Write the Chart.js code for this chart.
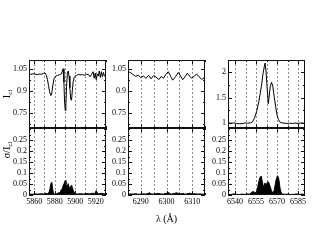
<!DOCTYPE html>
<html>
<head>
<meta charset="utf-8">
<script src="https://cdn.jsdelivr.net/npm/chart.js@4.4.0/dist/chart.umd.min.js"></script>
<style>
body { margin: 0; background: #fff; width: 317px; height: 245px; overflow: hidden; position: relative; }
canvas { position: absolute; left: 0; top: 0; }
</style>
</head>
<body>
<canvas id="t1" width="317" height="245"></canvas>
<canvas id="t2" width="317" height="245"></canvas>
<canvas id="t3" width="317" height="245"></canvas>
<canvas id="b1" width="317" height="245"></canvas>
<canvas id="b2" width="317" height="245"></canvas>
<canvas id="b3" width="317" height="245"></canvas>
<script>
// Na D region
const wl1 = [5855, 5857, 5859, 5861, 5863, 5865, 5867, 5869, 5870.5, 5872, 5873, 5874, 5875, 5876, 5876.8, 5877.5, 5878.5, 5879.5, 5881, 5883, 5885, 5886.5, 5887.5, 5888.3, 5889, 5889.6, 5890.3, 5890.9, 5891.6, 5892.4, 5893.2, 5894, 5894.8, 5895.6, 5896.4, 5897.2, 5898, 5899, 5900, 5901.5, 5903, 5905, 5907, 5909, 5911, 5913, 5914.5, 5916, 5917.5, 5918.5, 5919.5, 5920.5, 5921.5, 5922.5, 5923.5, 5924.5, 5925.5, 5926.5, 5927.5, 5928.5, 5930];
const flux1 = [1.015, 1.012, 1.016, 1.013, 1.01, 1.014, 1.012, 1.018, 1.022, 1.005, 0.975, 0.935, 0.895, 0.868, 0.87, 0.9, 0.95, 0.985, 1.0, 1.005, 1.01, 1.015, 1.035, 1.05, 0.96, 0.83, 0.765, 0.8, 0.93, 1.02, 1.035, 1.0, 0.92, 0.84, 0.835, 0.9, 0.96, 0.99, 1.0, 1.005, 1.012, 1.008, 1.01, 1.006, 1.012, 1.01, 0.995, 1.012, 1.03, 0.985, 1.02, 0.975, 1.015, 1.0, 1.035, 0.99, 1.03, 0.995, 1.025, 1.0, 1.01];
const wlSig1 = [5855, 5858, 5861, 5864, 5867, 5869, 5871, 5873, 5874.5, 5875.5, 5876.5, 5877.2, 5878, 5878.8, 5880, 5882, 5884, 5885.5, 5886.5, 5887.5, 5888.5, 5889.5, 5890.3, 5891, 5891.8, 5892.5, 5893.2, 5894, 5894.8, 5895.6, 5896.5, 5897.3, 5898.2, 5899, 5900, 5902, 5905, 5908, 5911, 5914, 5917, 5919, 5920.5, 5921.5, 5923, 5926, 5928, 5930];
const sig1 = [0.004, 0.003, 0.005, 0.004, 0.006, 0.004, 0.008, 0.006, 0.012, 0.03, 0.055, 0.058, 0.03, 0.008, 0.004, 0.006, 0.01, 0.012, 0.025, 0.03, 0.045, 0.055, 0.066, 0.05, 0.038, 0.042, 0.052, 0.035, 0.03, 0.04, 0.045, 0.032, 0.02, 0.012, 0.006, 0.004, 0.006, 0.004, 0.007, 0.005, 0.008, 0.006, 0.02, 0.01, 0.005, 0.008, 0.005, 0.006];

// [O I] 6300 region
const wl2 = [6285, 6286, 6287, 6288, 6289, 6290, 6291, 6292, 6293, 6294, 6295, 6296, 6297, 6298, 6298.8, 6299.7, 6300.7, 6301.6, 6302.4, 6303.5, 6304.6, 6305.5, 6306.3, 6307.2, 6308.1, 6309, 6309.8, 6310.8, 6311.7, 6312.7, 6313.7, 6315];
const flux2 = [1.03, 1.024, 1.01, 0.998, 1.006, 0.99, 1.002, 0.984, 1.006, 0.982, 1.004, 0.992, 0.976, 0.998, 0.985, 1.01, 1.03, 1.0, 0.972, 0.995, 1.025, 1.0, 0.975, 0.995, 1.02, 1.0, 0.985, 0.998, 1.015, 0.995, 0.978, 0.99];
const wlSig2 = [6285, 6286, 6287, 6288, 6289, 6290, 6291, 6292, 6293, 6293.5, 6294, 6295, 6296, 6297, 6298, 6299, 6300, 6300.7, 6301.5, 6302, 6303, 6304, 6305, 6306, 6306.5, 6307, 6308, 6309, 6310, 6311, 6312, 6313, 6314, 6315];
const sig2 = [0.003, 0.005, 0.004, 0.006, 0.003, 0.004, 0.005, 0.004, 0.008, 0.01, 0.005, 0.004, 0.006, 0.007, 0.004, 0.005, 0.008, 0.011, 0.006, 0.004, 0.007, 0.01, 0.005, 0.006, 0.008, 0.004, 0.005, 0.008, 0.005, 0.006, 0.004, 0.005, 0.004, 0.003];

// H-alpha region
const wl3 = [6535, 6537, 6539, 6541, 6543, 6545, 6547, 6549, 6551, 6552.5, 6554, 6555.5, 6557, 6558, 6559, 6560, 6561, 6561.5, 6562.2, 6563, 6563.8, 6564.5, 6565.2, 6566.1, 6567, 6568, 6569, 6570, 6571, 6572, 6573.5, 6575, 6577, 6579, 6581, 6583, 6585, 6587, 6589, 6590];
const flux3 = [1.0, 0.995, 1.0, 0.99, 0.982, 0.985, 1.0, 0.995, 1.0, 1.02, 1.1, 1.23, 1.42, 1.58, 1.75, 1.97, 2.12, 2.18, 2.0, 1.68, 1.38, 1.55, 1.72, 1.8, 1.72, 1.52, 1.33, 1.16, 1.07, 1.02, 1.0, 0.995, 0.99, 0.995, 0.99, 0.995, 0.992, 0.998, 0.995, 1.0];
const wlSig3 = [6535, 6537, 6539, 6541, 6543, 6545, 6547, 6549, 6550.5, 6552, 6553, 6554, 6555, 6556, 6556.8, 6557.8, 6558.7, 6559.6, 6560.5, 6561.4, 6562.2, 6563, 6563.8, 6564.5, 6565.3, 6566.2, 6567, 6568, 6568.8, 6569.6, 6570.4, 6571.3, 6572.2, 6573, 6574, 6576, 6578, 6580, 6582, 6584, 6586, 6588, 6590];
const sig3 = [0.004, 0.002, 0.005, 0.003, 0.002, 0.004, 0.003, 0.005, 0.004, 0.012, 0.016, 0.012, 0.01, 0.028, 0.055, 0.08, 0.086, 0.058, 0.032, 0.055, 0.042, 0.056, 0.06, 0.05, 0.035, 0.016, 0.012, 0.02, 0.05, 0.075, 0.088, 0.072, 0.03, 0.01, 0.004, 0.003, 0.004, 0.002, 0.003, 0.005, 0.003, 0.004, 0.003];

// tick labels
const xLabels1 = [5860, 5880, 5900, 5920];
const xLabels2 = [6290, 6300, 6310];
const xLabels3 = [6540, 6555, 6570, 6585];
const yLabelsFlux = [0.75, 0.9, 1.05];
const yLabelsHa = [1, 1.5, 2];
const yLabelsSig = [0, 0.05, 0.1, 0.15, 0.2, 0.25];

const W = 317, H = 245;
const tickFont = { family: '"Liberation Serif", "DejaVu Serif", serif', size: 8 };

function pts(xs, ys) { return xs.map((x, i) => ({ x: x, y: ys[i] })); }

function labeler(list) {
  return function (value) {
    const hit = list.find(v => Math.abs(v - value) < 1e-6);
    return hit === undefined ? '' : String(hit);
  };
}

// grid lines, inside ticks and frame
const frame = {
  id: 'frame',
  beforeDatasetsDraw(chart) {
    const { ctx, chartArea: a, scales: { x } } = chart;
    ctx.save();
    ctx.strokeStyle = '#8c8c8c';
    ctx.lineWidth = 1;
    ctx.setLineDash([2, 2]);
    x.ticks.forEach(t => {
      const px = Math.round(x.getPixelForValue(t.value)) + 0.5;
      if (px <= a.left + 1 || px >= a.right - 1) return;
      ctx.beginPath();
      ctx.moveTo(px, a.top);
      ctx.lineTo(px, a.bottom);
      ctx.stroke();
    });
    ctx.restore();
  },
  afterDraw(chart) {
    const { ctx, chartArea: a, scales: { x, y } } = chart;
    ctx.save();
    ctx.strokeStyle = '#111';
    ctx.lineWidth = 1;
    ctx.beginPath();
    x.ticks.forEach(t => {
      const px = Math.round(x.getPixelForValue(t.value)) + 0.5;
      const len = t.label ? 4 : 2;
      ctx.moveTo(px, a.bottom); ctx.lineTo(px, a.bottom - len);
      ctx.moveTo(px, a.top); ctx.lineTo(px, a.top + len);
    });
    y.ticks.forEach(t => {
      const py = Math.round(y.getPixelForValue(t.value)) + 0.5;
      const len = t.label ? 4 : 2;
      ctx.moveTo(a.left, py); ctx.lineTo(a.left + len, py);
      ctx.moveTo(a.right, py); ctx.lineTo(a.right - len, py);
    });
    ctx.stroke();
    ctx.strokeRect(a.left + 0.5, a.top + 0.5, a.right - a.left - 1, a.bottom - a.top - 1);
    ctx.restore();
  }
};

function rotTitle(cx, cy, main, sub) {
  return {
    id: 'rotTitle',
    afterDraw(chart) {
      const ctx = chart.ctx;
      ctx.save();
      ctx.fillStyle = '#000';
      ctx.textBaseline = 'middle';
      ctx.font = '10px "Liberation Serif", serif';
      const w1 = ctx.measureText(main).width;
      ctx.font = '7px "Liberation Serif", serif';
      const w2 = ctx.measureText(sub).width;
      ctx.translate(cx, cy);
      ctx.rotate(-Math.PI / 2);
      const x0 = -(w1 + w2) / 2;
      ctx.font = '10px "Liberation Serif", serif';
      ctx.fillText(main, x0, 0);
      ctx.font = '7px "Liberation Serif", serif';
      ctx.fillText(sub, x0 + w1, 3);
      ctx.restore();
    }
  };
}

function panel(id, c) {
  const yW = c.yW, xH = c.xH;
  return new Chart(document.getElementById(id), {
    type: 'line',
    data: {
      datasets: [{
        data: pts(c.xs, c.ys),
        borderColor: '#000',
        backgroundColor: '#000',
        borderWidth: 1,
        fill: c.fill ? 'origin' : false,
        pointRadius: 0,
        tension: 0
      }]
    },
    options: {
      responsive: false,
      animation: false,
      events: [],
      layout: { padding: { left: c.left - yW, top: c.top, right: W - c.right, bottom: H - c.bottom - xH } },
      plugins: { legend: { display: false }, tooltip: { enabled: false } },
      scales: {
        x: {
          type: 'linear', min: c.xMin, max: c.xMax,
          grid: { display: false, drawTicks: false, tickLength: 0 }, border: { display: false },
          ticks: {
            display: c.showX, stepSize: c.xStep, includeBounds: false, autoSkip: false,
            maxRotation: 0, padding: 2, font: tickFont, color: '#000',
            callback: labeler(c.xLabels)
          },
          title: c.xTitle ? { display: true, text: c.xTitle, color: '#000', padding: 0,
            font: { family: '"Liberation Serif", serif', size: 10 } } : { display: false },
          afterFit: s => { s.height = xH; }
        },
        y: {
          min: c.yMin, max: c.yMax,
          grid: { display: false, drawTicks: false, tickLength: 0 }, border: { display: false },
          ticks: {
            stepSize: c.yStep, includeBounds: false, autoSkip: false,
            padding: 2, font: tickFont, color: '#000',
            callback: labeler(c.yLabels)
          },
          afterFit: s => { s.width = yW; }
        }
      }
    },
    plugins: [frame].concat(c.extra || [])
  });
}

const TOP = 60, MID = 128, BOT = 195;
const cols = [
  { left: 29, right: 106, yW: 29, xMin: 5855, xMax: 5930, xStep: 10, xLabels: xLabels1, xs: wl1, ys: flux1, sx: wlSig1, sy: sig1 },
  { left: 128, right: 205, yW: 22, xMin: 6285, xMax: 6315, xStep: 5, xLabels: xLabels2, xs: wl2, ys: flux2, sx: wlSig2, sy: sig2 },
  { left: 228, right: 305, yW: 22, xMin: 6535, xMax: 6590, xStep: 7.5, xLabels: xLabels3, xs: wl3, ys: flux3, sx: wlSig3, sy: sig3 }
];

cols.forEach((c, i) => {
  const isHa = i === 2;
  panel('t' + (i + 1), {
    left: c.left, right: c.right, top: TOP, bottom: MID, yW: c.yW, xH: 0,
    xMin: c.xMin, xMax: c.xMax, xStep: c.xStep, xLabels: c.xLabels, showX: false,
    yMin: isHa ? 0.9 : 0.645, yMax: isHa ? 2.24 : 1.11, yStep: isHa ? 0.25 : 0.075,
    yLabels: isHa ? yLabelsHa : yLabelsFlux,
    xs: c.xs, ys: c.ys, fill: false,
    extra: i === 0 ? [rotTitle(7, 94, 'I', 'cl')] : []
  });
  panel('b' + (i + 1), {
    left: c.left, right: c.right, top: MID, bottom: BOT, yW: c.yW, xH: i === 1 ? 30 : 14,
    xMin: c.xMin, xMax: c.xMax, xStep: c.xStep, xLabels: c.xLabels, showX: true,
    xTitle: i === 1 ? 'λ (Å)' : null,
    yMin: 0, yMax: 0.305, yStep: 0.025, yLabels: yLabelsSig,
    xs: c.sx, ys: c.sy, fill: true,
    extra: i === 0 ? [rotTitle(7, 150, 'σ/I', 'cl')] : []
  });
});
</script>
</body>
</html>
